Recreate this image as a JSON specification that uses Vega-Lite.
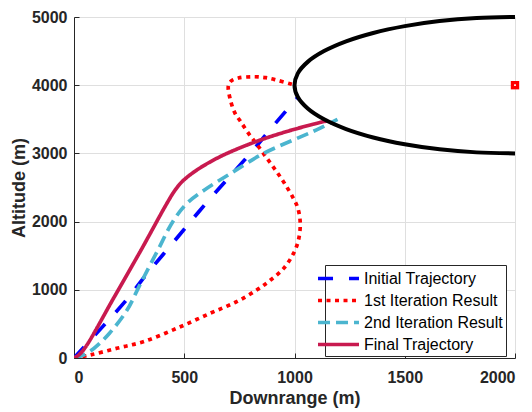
{
  "$schema": "https://vega.github.io/schema/vega-lite/v6.json",
  "width": 441,
  "height": 341,
  "autosize": {"type": "none"},
  "padding": {"left": 74, "top": 17, "right": 17, "bottom": 54},
  "background": "white",
  "config": {
    "view": {"stroke": null},
    "font": "Liberation Sans",
    "axis": {
      "domainColor": "#262626",
      "domainWidth": 1,
      "gridColor": "#dfdfdf",
      "gridWidth": 1,
      "labelFont": "Liberation Sans",
      "labelFontWeight": "bold",
      "labelFontSize": 16,
      "labelColor": "#262626",
      "titleFont": "Liberation Sans",
      "titleFontWeight": "bold",
      "titleFontSize": 18,
      "titleColor": "#262626",
      "tickColor": "#262626",
      "ticks": true,
      "tickSize": -5,
      "format": "d"
    }
  },
  "datasets": {
    "traj": [
      {"series": "Initial Trajectory", "k": 0, "x": 0, "y": 0},
      {"series": "Initial Trajectory", "k": 1, "x": 130, "y": 460},
      {"series": "Initial Trajectory", "k": 2, "x": 240, "y": 860},
      {"series": "Initial Trajectory", "k": 3, "x": 330, "y": 1230},
      {"series": "Initial Trajectory", "k": 4, "x": 480, "y": 1810},
      {"series": "Initial Trajectory", "k": 5, "x": 570, "y": 2160},
      {"series": "Initial Trajectory", "k": 6, "x": 700, "y": 2640},
      {"series": "Initial Trajectory", "k": 7, "x": 800, "y": 3000},
      {"series": "Initial Trajectory", "k": 8, "x": 900, "y": 3390},
      {"series": "Initial Trajectory", "k": 9, "x": 1012, "y": 3810},

      {"series": "1st Iteration Result", "k": 0, "x": 0, "y": 0},
      {"series": "1st Iteration Result", "k": 1, "x": 73, "y": 44},
      {"series": "1st Iteration Result", "k": 2, "x": 194, "y": 142},
      {"series": "1st Iteration Result", "k": 3, "x": 314, "y": 239},
      {"series": "1st Iteration Result", "k": 4, "x": 466, "y": 435},
      {"series": "1st Iteration Result", "k": 5, "x": 617, "y": 655},
      {"series": "1st Iteration Result", "k": 6, "x": 738, "y": 826},
      {"series": "1st Iteration Result", "k": 7, "x": 830, "y": 1000},
      {"series": "1st Iteration Result", "k": 8, "x": 890, "y": 1140},
      {"series": "1st Iteration Result", "k": 9, "x": 950, "y": 1310},
      {"series": "1st Iteration Result", "k": 10, "x": 995, "y": 1530},
      {"series": "1st Iteration Result", "k": 11, "x": 1018, "y": 1730},
      {"series": "1st Iteration Result", "k": 12, "x": 1026, "y": 1980},
      {"series": "1st Iteration Result", "k": 13, "x": 1015, "y": 2200},
      {"series": "1st Iteration Result", "k": 14, "x": 995, "y": 2340},
      {"series": "1st Iteration Result", "k": 15, "x": 955, "y": 2560},
      {"series": "1st Iteration Result", "k": 16, "x": 915, "y": 2750},
      {"series": "1st Iteration Result", "k": 17, "x": 870, "y": 2950},
      {"series": "1st Iteration Result", "k": 18, "x": 830, "y": 3130},
      {"series": "1st Iteration Result", "k": 19, "x": 790, "y": 3300},
      {"series": "1st Iteration Result", "k": 20, "x": 755, "y": 3470},
      {"series": "1st Iteration Result", "k": 21, "x": 730, "y": 3590},
      {"series": "1st Iteration Result", "k": 22, "x": 708, "y": 3800},
      {"series": "1st Iteration Result", "k": 23, "x": 700, "y": 3990},
      {"series": "1st Iteration Result", "k": 24, "x": 712, "y": 4060},
      {"series": "1st Iteration Result", "k": 25, "x": 745, "y": 4105},
      {"series": "1st Iteration Result", "k": 26, "x": 813, "y": 4124},
      {"series": "1st Iteration Result", "k": 27, "x": 870, "y": 4110},
      {"series": "1st Iteration Result", "k": 28, "x": 919, "y": 4075},
      {"series": "1st Iteration Result", "k": 29, "x": 992, "y": 4010},

      {"series": "2nd Iteration Result", "k": 0, "x": 0, "y": 0},
      {"series": "2nd Iteration Result", "k": 1, "x": 40, "y": 40},
      {"series": "2nd Iteration Result", "k": 2, "x": 90, "y": 140},
      {"series": "2nd Iteration Result", "k": 3, "x": 160, "y": 360},
      {"series": "2nd Iteration Result", "k": 4, "x": 240, "y": 700},
      {"series": "2nd Iteration Result", "k": 5, "x": 300, "y": 1080},
      {"series": "2nd Iteration Result", "k": 6, "x": 380, "y": 1580},
      {"series": "2nd Iteration Result", "k": 7, "x": 450, "y": 2010},
      {"series": "2nd Iteration Result", "k": 8, "x": 510, "y": 2260},
      {"series": "2nd Iteration Result", "k": 9, "x": 590, "y": 2460},
      {"series": "2nd Iteration Result", "k": 10, "x": 710, "y": 2705},
      {"series": "2nd Iteration Result", "k": 11, "x": 860, "y": 3000},
      {"series": "2nd Iteration Result", "k": 12, "x": 995, "y": 3197},
      {"series": "2nd Iteration Result", "k": 13, "x": 1100, "y": 3345},
      {"series": "2nd Iteration Result", "k": 14, "x": 1195, "y": 3500},

      {"series": "Final Trajectory", "k": 0, "x": 0, "y": 0},
      {"series": "Final Trajectory", "k": 1, "x": 20, "y": 40},
      {"series": "Final Trajectory", "k": 2, "x": 50, "y": 150},
      {"series": "Final Trajectory", "k": 3, "x": 180, "y": 880},
      {"series": "Final Trajectory", "k": 4, "x": 307, "y": 1600},
      {"series": "Final Trajectory", "k": 5, "x": 420, "y": 2260},
      {"series": "Final Trajectory", "k": 6, "x": 455, "y": 2445},
      {"series": "Final Trajectory", "k": 7, "x": 490, "y": 2585},
      {"series": "Final Trajectory", "k": 8, "x": 556, "y": 2754},
      {"series": "Final Trajectory", "k": 9, "x": 662, "y": 2951},
      {"series": "Final Trajectory", "k": 10, "x": 813, "y": 3158},
      {"series": "Final Trajectory", "k": 11, "x": 964, "y": 3320},
      {"series": "Final Trajectory", "k": 12, "x": 1115, "y": 3453},
      {"series": "Final Trajectory", "k": 13, "x": 1150, "y": 3480}
    ],
    "boundary": [
      {"k": 0, "x": 2000, "y": 5000},
      {"k": 1, "x": 1826, "y": 4985},
      {"k": 2, "x": 1658, "y": 4940},
      {"k": 3, "x": 1500, "y": 4866},
      {"k": 4, "x": 1357, "y": 4766},
      {"k": 5, "x": 1234, "y": 4643},
      {"k": 6, "x": 1134, "y": 4500},
      {"k": 7, "x": 1060, "y": 4342},
      {"k": 8, "x": 1015, "y": 4174},
      {"k": 9, "x": 1000, "y": 4000},
      {"k": 10, "x": 1015, "y": 3826},
      {"k": 11, "x": 1060, "y": 3658},
      {"k": 12, "x": 1134, "y": 3500},
      {"k": 13, "x": 1234, "y": 3357},
      {"k": 14, "x": 1357, "y": 3234},
      {"k": 15, "x": 1500, "y": 3134},
      {"k": 16, "x": 1658, "y": 3060},
      {"k": 17, "x": 1826, "y": 3015},
      {"k": 18, "x": 2000, "y": 3000}
    ],
    "target": [{"x": 2000, "y": 4000}]
  },
  "encoding": {
    "x": {
      "field": "x", "type": "quantitative",
      "scale": {"domain": [0, 2000], "nice": false, "zero": false},
      "axis": {"title": "Downrange (m)", "values": [0, 500, 1000, 1500, 2000], "labelPadding": 16, "titlePadding": 4}
    },
    "y": {
      "field": "y", "type": "quantitative",
      "scale": {"domain": [0, 5000], "nice": false, "zero": false},
      "axis": {"title": "Altitude (m)", "values": [0, 1000, 2000, 3000, 4000, 5000], "labelPadding": 12, "titlePadding": 3}
    }
  },
  "layer": [
    {
      "data": {"name": "traj"},
      "mark": {"type": "line", "strokeWidth": 3.7, "interpolate": "catmull-rom", "strokeCap": "butt", "clip": true},
      "encoding": {
        "order": {"field": "k", "type": "quantitative"},
        "color": {
          "field": "series", "type": "nominal",
          "scale": {
            "domain": ["Initial Trajectory", "1st Iteration Result", "2nd Iteration Result", "Final Trajectory"],
            "range": ["#0000ff", "#ff0000", "#4bb5cf", "#c81a4f"]
          },
          "legend": {
            "title": null,
            "orient": "none",
            "legendX": 251,
            "legendY": 248,
            "fillColor": "white",
            "strokeColor": "#262626",
            "padding": 3,
            "labelFont": "Liberation Sans",
            "labelFontSize": 16,
            "labelColor": "#000000",
            "labelOffset": 15,
            "rowPadding": 3,
            "symbolType": "M-2.41,0H2.41",
            "symbolSize": 289,
            "symbolStrokeWidth": 3.5
          }
        },
        "strokeDash": {
          "field": "series", "type": "nominal",
          "scale": {
            "domain": ["Initial Trajectory", "1st Iteration Result", "2nd Iteration Result", "Final Trajectory"],
            "range": [[15, 16], [4, 4.5], [12, 6], [1, 0]]
          }
        }
      }
    },
    {
      "data": {"name": "boundary"},
      "mark": {"type": "line", "color": "black", "strokeWidth": 4, "interpolate": "catmull-rom"},
      "encoding": {"order": {"field": "k", "type": "quantitative"}}
    },
    {
      "data": {"name": "target"},
      "mark": {"type": "point", "shape": "square", "filled": true, "color": "#ff0000", "size": 70, "opacity": 1, "clip": false}
    },
    {
      "data": {"name": "target"},
      "mark": {"type": "point", "shape": "square", "filled": true, "color": "white", "size": 3, "opacity": 1, "clip": false}
    }
  ]
}
